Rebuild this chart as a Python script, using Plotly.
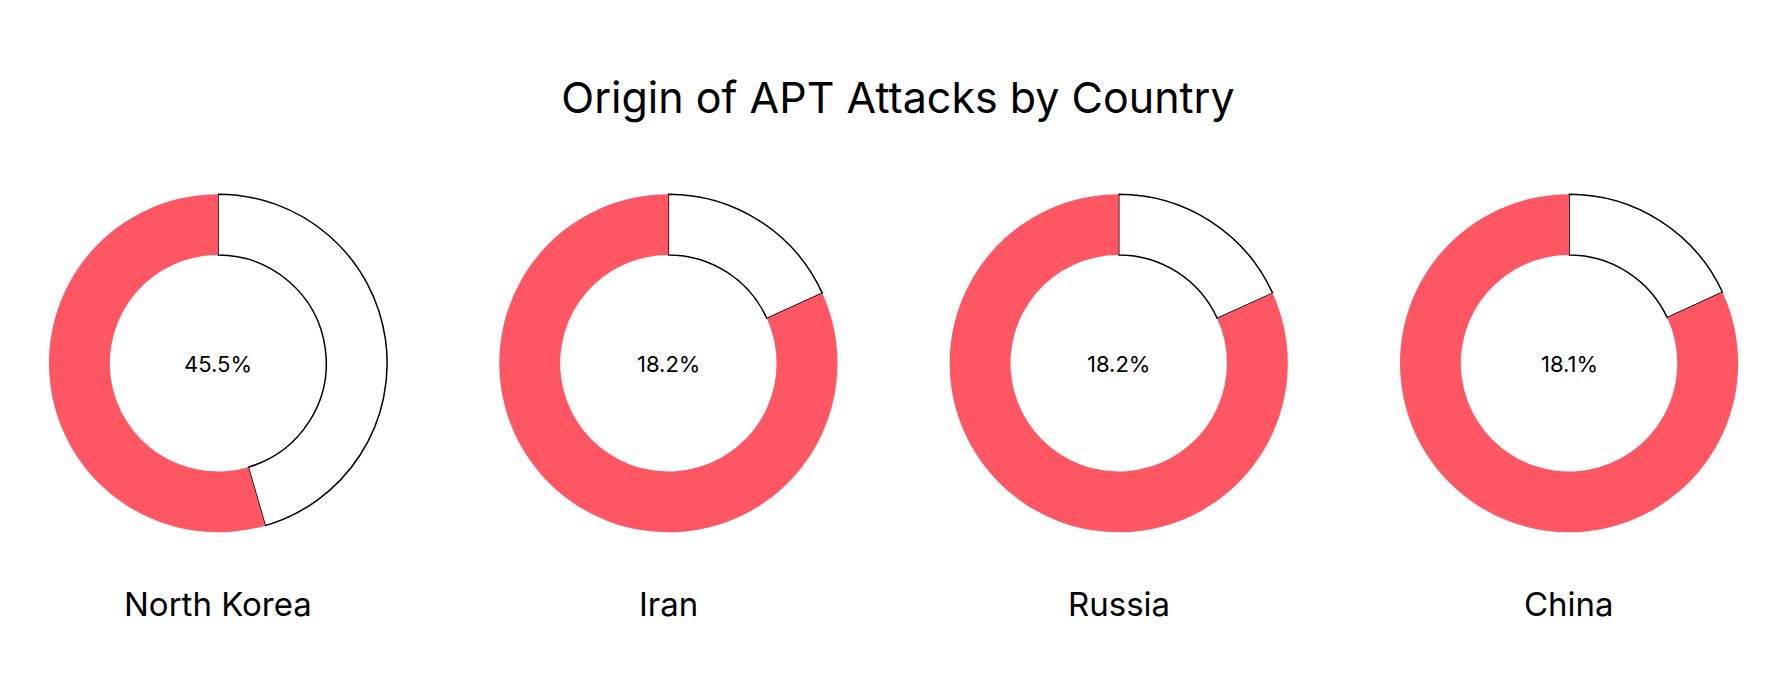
import plotly.graph_objects as go

countries = ["North Korea", "Iran", "Russia", "China"]
shares = [45.5, 18.2, 18.2, 18.1]
labels_txt = ["45.5%", "18.2%", "18.2%", "18.1%"]
centers_x = [0.118, 0.371, 0.624, 0.877]

RED = "#FF5664"
FONT = "Inter, Lato, sans-serif"
fig = go.Figure()
hw = 0.095
for c, s, cx, lt in zip(countries, shares, centers_x, labels_txt):
    fig.add_trace(go.Pie(
        values=[s, 100 - s], labels=[c, "Other"], hole=0.64, sort=False,
        direction="clockwise", rotation=0, textinfo="none", hoverinfo="label+percent",
        marker=dict(colors=["white", RED], line=dict(color=["black", RED], width=[1.5, 0])),
        domain=dict(x=[cx - hw, cx + hw], y=[0.25, 0.735]), showlegend=False))
    fig.add_annotation(x=cx, y=0.492, xref="paper", yref="paper", text=lt, showarrow=False,
                       xanchor="center", yanchor="middle",
                       font=dict(size=22, color="black", family=FONT))
    fig.add_annotation(x=cx, y=0.149, xref="paper", yref="paper", text=c, showarrow=False,
                       xanchor="center", yanchor="middle",
                       font=dict(size=33, color="black", family=FONT))

fig.update_layout(
    width=1780, height=700, paper_bgcolor="white", plot_bgcolor="white",
    margin=dict(l=0, r=0, t=0, b=0),
    title=dict(text="Origin of APT Attacks by Country", x=0.5, y=0.872, xanchor="center", yanchor="middle",
               font=dict(size=43, color="black", family=FONT)),
)
fig.write_html("out.html")
